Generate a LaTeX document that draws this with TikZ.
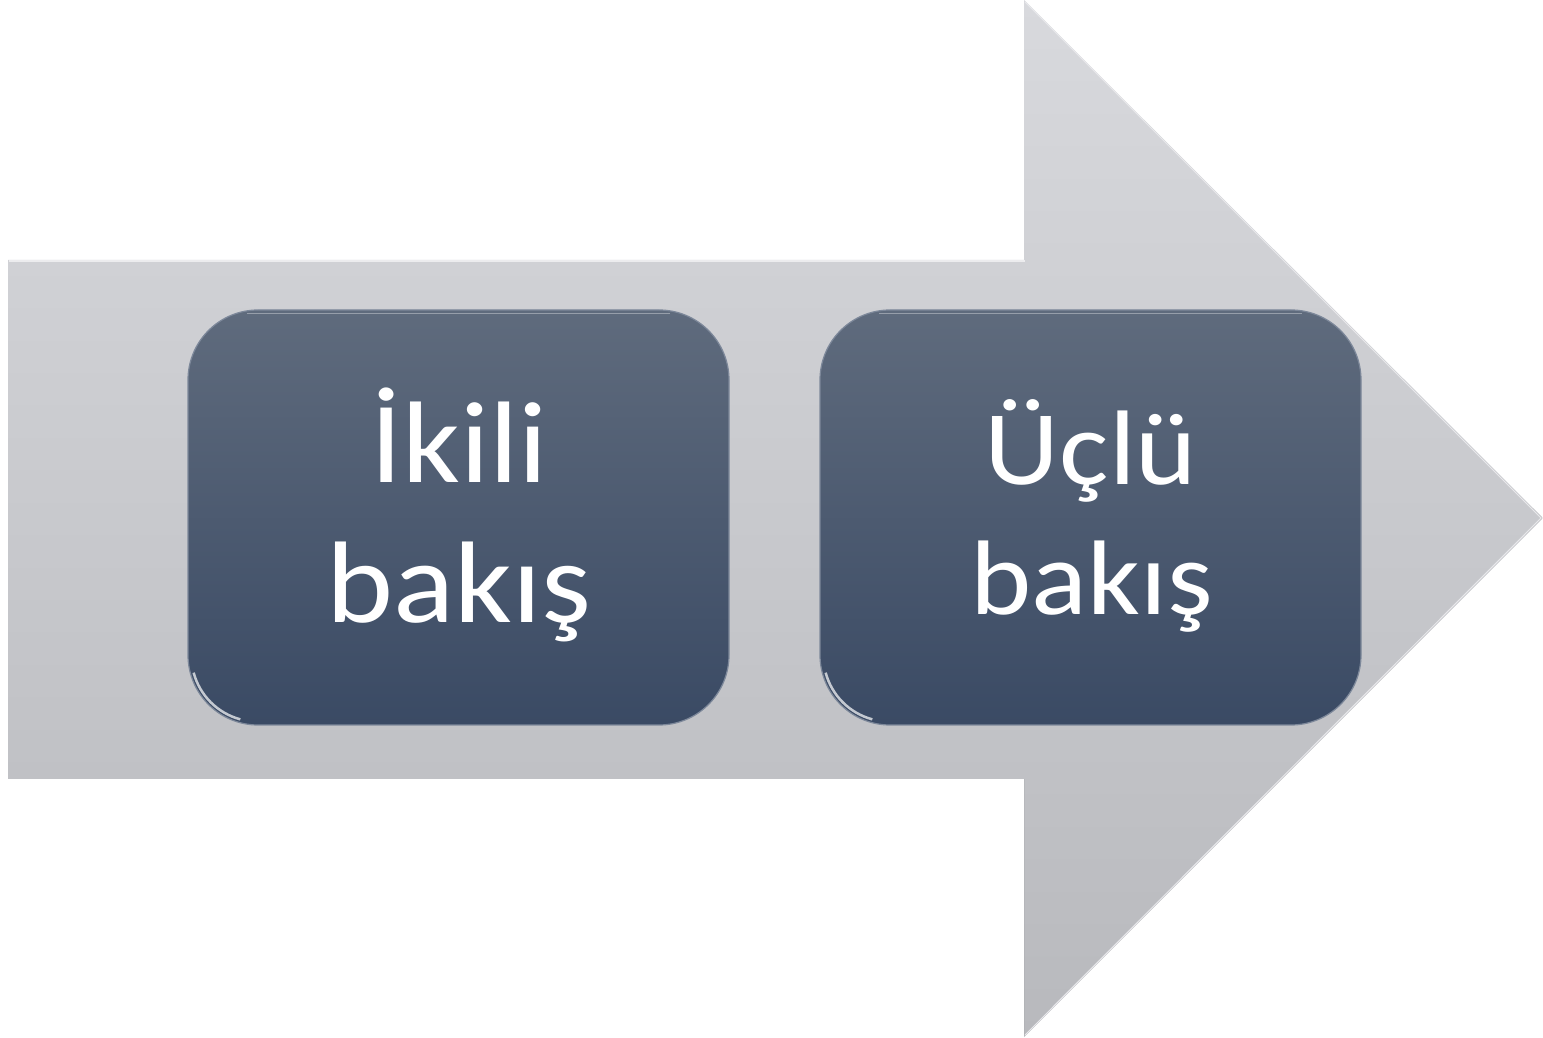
\documentclass[tikz,border=0pt]{standalone}
\usepackage{fontspec}
\setmainfont{Carlito}
\definecolor{arrtop}{HTML}{D8D9DD}
\definecolor{arrbot}{HTML}{B8B9BD}
\definecolor{boxtop}{HTML}{5F6B7D}
\definecolor{boxbot}{HTML}{3A4A64}
\definecolor{boxedge}{HTML}{7D889A}
\newcommand{\wide}[1]{\scalebox{1.1}[1]{#1}}
\tikzset{
  stepbox/.style={rectangle, rounded corners=70pt, minimum width=541pt, minimum height=415pt,
    top color=boxtop, bottom color=boxbot, draw=boxedge, line width=1.2pt, inner sep=0pt},
  boxtext/.style={text=white, font=\fontsize{116}{138}\selectfont, anchor=base, inner sep=0pt},
  boxtextsmall/.style={boxtext, font=\fontsize{106}{128}\selectfont}
}
\begin{document}
\begin{tikzpicture}[x=1pt,y=1pt]
\useasboundingbox (0,0) rectangle (1543,1037);
% big arrow
\shade[top color=arrtop, bottom color=arrbot]
  (8,777) -- (1024,777) -- (1024,1037) -- (1543,519) -- (1024,0) -- (1024,258) -- (8,258) -- cycle;
\draw[white, opacity=0.6, line width=1.5pt] (9,776) -- (1025,776);
\draw[arrtop!60!white, line width=1pt] (1025,1035) -- (1541,519) -- (1025,2);
\draw[arrbot!90!black, opacity=0.3, line width=1pt] (1024,258) -- (1024,2);
% boxes
\node[stepbox] (b1) at (458.5,519.5) {};
\node[stepbox] (b2) at (1090.5,519.5) {};
% glare on lower-left corners
\draw[white, opacity=0.7, line width=2.5pt] ([shift={(70,70)}]b1.south west) ++(195:66) arc (195:255:66);
\draw[white, opacity=0.7, line width=2.5pt] ([shift={(70,70)}]b2.south west) ++(195:66) arc (195:255:66);
\draw[white, opacity=0.35, line width=1.5pt] ([xshift=60pt,yshift=-4pt]b1.north west) -- ([xshift=-60pt,yshift=-4pt]b1.north east);
\draw[white, opacity=0.35, line width=1.5pt] ([xshift=60pt,yshift=-4pt]b2.north west) -- ([xshift=-60pt,yshift=-4pt]b2.north east);
% texts
\node[boxtext] (t1a) at (459,554) {\wide{İkili}};
\node[boxtext] (t1b) at (459,414) {\wide{bakış}};
\node[boxtextsmall] (t2a) at (1091,552) {\wide{Üçlü}};
\node[boxtextsmall] (t2b) at (1092,422) {\wide{bakış}};
\end{tikzpicture}
\end{document}
